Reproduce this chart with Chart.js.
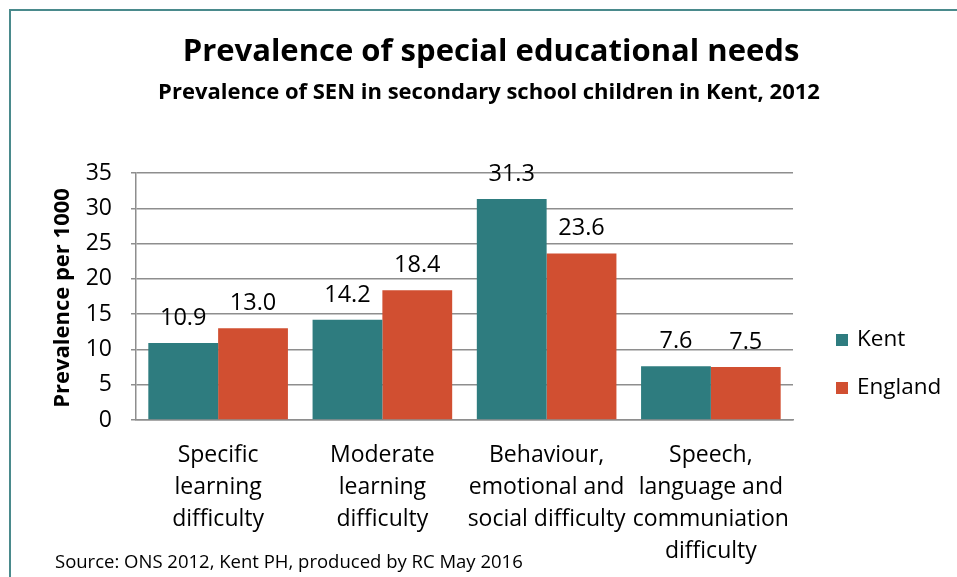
<!DOCTYPE html>
<html>
<head>
<meta charset="utf-8">
<title>Prevalence of special educational needs</title>
<script src="https://cdn.jsdelivr.net/npm/chart.js@4/dist/chart.umd.min.js"></script>
<style>
  html, body { margin: 0; padding: 0; background: #fff; }
  #wrap { position: relative; width: 957px; height: 577px; }
  #frame {
    position: absolute; left: 9px; top: 9px; right: -20px; bottom: -20px;
    border-top: 2px solid #4a8a8c; border-left: 2px solid #4a8a8c;
  }
  canvas { position: absolute; left: 0; top: 0; }
</style>
</head>
<body>
<div id="wrap">
  <div id="frame"></div>
  <canvas id="myChart" width="957" height="577"></canvas>
</div>
<script>
var FONT = "'Open Sans', sans-serif";

// categories and values (prevalence per 1000)
var categories = [
  ["Specific", "learning", "difficulty"],
  ["Moderate", "learning", "difficulty"],
  ["Behaviour,", "emotional and", "social difficulty"],
  ["Speech,", "language and", "communiation", "difficulty"]
];
var kent = [10.9, 14.2, 31.3, 7.6];
var england = [13.0, 18.4, 23.6, 7.5];
var seriesNames = ["Kent", "England"];
var seriesColours = ["#2e7c7f", "#d14f31"];
var yTicks = [0, 5, 10, 15, 20, 25, 30, 35];

// titles, axis title, value labels, legend and footnote
var decorations = {
  id: 'decorations',
  afterDatasetsDraw: function(chart) {
    var ctx = chart.ctx;
    ctx.save();
    ctx.fillStyle = '#000';
    ctx.textAlign = 'center';
    ctx.textBaseline = 'middle';
    ctx.font = "bold 31px " + FONT;
    ctx.fillText("Prevalence of special educational needs", 491, 52);
    ctx.font = "bold 22px " + FONT;
    ctx.fillText("Prevalence of SEN in secondary school children in Kent, 2012", 489, 93);

    ctx.save();
    ctx.translate(63, 298);
    ctx.rotate(-Math.PI / 2);
    ctx.font = "bold 22px " + FONT;
    ctx.fillText("Prevalence per 1000", 0, 0);
    ctx.restore();

    // value labels
    ctx.font = "23.5px " + FONT;
    ctx.textBaseline = 'alphabetic';
    chart.data.datasets.forEach(function(ds, i) {
      chart.getDatasetMeta(i).data.forEach(function(bar, j) {
        ctx.fillText(ds.data[j].toFixed(1), bar.x, bar.y - 18);
      });
    });

    // legend
    ctx.font = "22.5px " + FONT;
    ctx.textAlign = 'left';
    ctx.textBaseline = 'middle';
    chart.data.datasets.forEach(function(ds, i) {
      var y = 340 + i * 48;
      ctx.fillStyle = ds.backgroundColor;
      ctx.fillRect(836, y - 6, 12, 12);
      ctx.fillStyle = '#000';
      ctx.fillText(ds.label, 857, y);
    });

    ctx.font = "18.5px " + FONT;
    ctx.fillText("Source: ONS 2012, Kent PH, produced by RC May 2016", 55, 563);
    ctx.restore();
  }
};

var ctx = document.getElementById("myChart").getContext('2d');
var myChart = new Chart(ctx, {
  type: 'bar',
  data: {
    labels: categories,
    datasets: [
      { label: seriesNames[0], data: kent, backgroundColor: seriesColours[0] },
      { label: seriesNames[1], data: england, backgroundColor: seriesColours[1] }
    ]
  },
  options: {
    responsive: false,
    animation: false,
    layout: { padding: { top: 173, right: 164, bottom: 0, left: 0 } },
    datasets: { bar: { categoryPercentage: 0.85, barPercentage: 1.0 } },
    plugins: {
      legend: { display: false },
      tooltip: { enabled: false }
    },
    scales: {
      x: {
        afterFit: function(scale) { scale.height = 157; },
        grid: { display: false, drawTicks: false },
        border: { color: '#8e8e8e', width: 1.5 },
        ticks: {
          color: '#000', padding: 19, maxRotation: 0, autoSkip: false,
          font: { family: FONT, size: 23, lineHeight: 1.4 }
        }
      },
      y: {
        min: 0,
        max: 35,
        afterFit: function(scale) { scale.width = 136; },
        afterBuildTicks: function(scale) {
          scale.ticks = yTicks.map(function(v) { return { value: v }; });
        },
        grid: { color: '#8e8e8e', lineWidth: 1.5, tickLength: 5 },
        border: { color: '#8e8e8e', width: 1.5 },
        ticks: { color: '#000', padding: 19, font: { family: FONT, size: 23 } }
      }
    }
  },
  plugins: [decorations]
});
</script>
</body>
</html>
